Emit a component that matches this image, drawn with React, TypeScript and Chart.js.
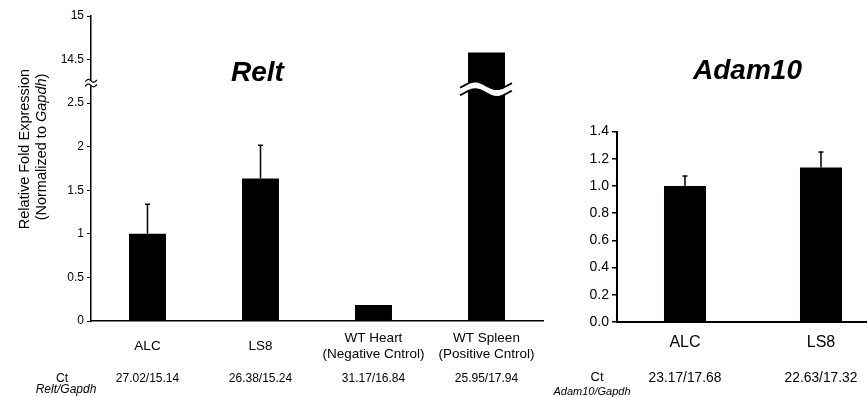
import React, { useEffect, useRef } from "react";
import { Chart, registerables } from "chart.js";

Chart.register(...registerables);

const FONT = "'Liberation Sans', Arial, Helvetica, sans-serif";

// ---- Relt panel data ----
const reltCategories = [["ALC"], ["LS8"], ["WT Heart", "(Negative Cntrol)"], ["WT Spleen", "(Positive Cntrol)"]];
const reltValues = [1.0, 1.636, 0.184, 14.58];
const reltErrors = [0.34, 0.38, 0, 0];
const reltCt = ["27.02/15.14", "26.38/15.24", "31.17/16.84", "25.95/17.94"];
const reltTickLabels = ["0", "0.5", "1", "1.5", "2", "2.5", "14.5", "15"];
// broken axis: values above BREAK_LOW are shifted down by BREAK_OFFSET on the drawing scale
const BREAK_LOW = 2.75;
const BREAK_OFFSET = 11.5;
const AXIS_BREAK_AT = 2.73;
const BAR_BREAK_AT = 2.66;

// ---- Adam10 panel data ----
const adamCategories = ["ALC", "LS8"];
const adamValues = [1.0, 1.135];
const adamErrors = [0.073, 0.115];
const adamCt = ["23.17/17.68", "22.63/17.32"];
const adamTickLabels = ["0.0", "0.2", "0.4", "0.6", "0.8", "1.0", "1.2", "1.4"];

const toDisplay = (v: number) => (v > BREAK_LOW ? v - BREAK_OFFSET : v);

function drawErrorBars(chart: any, displayValues: number[], errors: number[]) {
  const ctx = chart.ctx;
  const y = chart.scales.y;
  const meta = chart.getDatasetMeta(0);
  ctx.save();
  ctx.strokeStyle = "#000";
  ctx.lineWidth = 1.5;
  meta.data.forEach((bar: any, i: number) => {
    const e = errors[i];
    if (!e) return;
    const top = y.getPixelForValue(displayValues[i] + e);
    const base = y.getPixelForValue(displayValues[i]);
    ctx.beginPath();
    ctx.moveTo(bar.x, base);
    ctx.lineTo(bar.x, top);
    ctx.moveTo(bar.x - 2.5, top);
    ctx.lineTo(bar.x + 2.5, top);
    ctx.stroke();
  });
  ctx.restore();
}

function wavePath(ctx: any, x0: number, x1: number, yc: number, amp: number, reverse: boolean) {
  const N = 40;
  for (let k = 0; k <= N; k++) {
    const t = reverse ? 1 - k / N : k / N;
    const x = x0 + (x1 - x0) * t;
    const yy = yc - amp * Math.sin(2 * Math.PI * (t * 1.2 - 0.1));
    if (k === 0 && !reverse) ctx.moveTo(x, yy);
    else ctx.lineTo(x, yy);
  }
}

const reltPlugin = {
  id: "reltExtras",
  afterDatasetsDraw(chart: any) {
    const ctx = chart.ctx;
    const y = chart.scales.y;
    const disp = reltValues.map(toDisplay);
    drawErrorBars(chart, disp, reltErrors);

    // bar breaks
    const meta = chart.getDatasetMeta(0);
    meta.data.forEach((bar: any, i: number) => {
      if (reltValues[i] <= BREAK_LOW) return;
      const yc = y.getPixelForValue(BAR_BREAK_AT);
      const x0 = bar.x - bar.width / 2 - 8;
      const x1 = bar.x + bar.width / 2 + 7;
      const h = 3.8;
      const amp = 3.8;
      ctx.save();
      ctx.beginPath();
      wavePath(ctx, x0, x1, yc - h, amp, false);
      wavePath(ctx, x0, x1, yc + h, amp, true);
      ctx.closePath();
      ctx.fillStyle = "#fff";
      ctx.fill();
      ctx.strokeStyle = "#000";
      ctx.lineWidth = 1.8;
      ctx.beginPath();
      wavePath(ctx, x0, x1, yc - h, amp, false);
      ctx.stroke();
      ctx.beginPath();
      wavePath(ctx, x0, x1, yc + h, amp, false);
      ctx.stroke();
      ctx.restore();
    });

    // axis break
    const ax = chart.chartArea.left;
    const yb = y.getPixelForValue(AXIS_BREAK_AT);
    ctx.save();
    ctx.fillStyle = "#fff";
    ctx.fillRect(ax - 3, yb - 2.5, 6, 5);
    ctx.strokeStyle = "#000";
    ctx.lineWidth = 1.2;
    [-2.3, 2.3].forEach((d) => {
      ctx.beginPath();
      wavePath(ctx, ax - 6, ax + 6, yb + d, 1.4, false);
      ctx.stroke();
    });
    ctx.restore();
  },
  afterDraw(chart: any) {
    const ctx = chart.ctx;
    const x = chart.scales.x;
    ctx.save();
    ctx.fillStyle = "#000";
    // title
    ctx.font = `italic bold 28px ${FONT}`;
    ctx.textAlign = "center";
    ctx.textBaseline = "alphabetic";
    ctx.fillText("Relt", 257.5, 81);

    // y axis title
    ctx.save();
    ctx.translate(25, 149);
    ctx.rotate(-Math.PI / 2);
    ctx.font = `14.5px ${FONT}`;
    ctx.textBaseline = "middle";
    ctx.textAlign = "center";
    ctx.fillText("Relative Fold Expression", 0, 0);
    ctx.restore();
    ctx.save();
    ctx.translate(42, 147);
    ctx.rotate(-Math.PI / 2);
    ctx.textBaseline = "middle";
    ctx.textAlign = "left";
    const parts: [string, string][] = [
      ["(Normalized to ", `14.5px ${FONT}`],
      ["Gapdh", `italic 14.5px ${FONT}`],
      [")", `14.5px ${FONT}`],
    ];
    let total = 0;
    parts.forEach(([t, f]) => {
      ctx.font = f;
      total += ctx.measureText(t).width;
    });
    let cx = -total / 2;
    parts.forEach(([t, f]) => {
      ctx.font = f;
      ctx.fillText(t, cx, 0);
      cx += ctx.measureText(t).width;
    });
    ctx.restore();

    // Ct row
    ctx.font = `12px ${FONT}`;
    ctx.textAlign = "center";
    reltCt.forEach((t, i) => {
      ctx.fillText(t, x.getPixelForValue(i), 381.5);
    });
    ctx.fillText("Ct", 62, 381.5);
    ctx.font = `italic 12px ${FONT}`;
    ctx.fillText("Relt/Gapdh", 66, 393);
    ctx.restore();
  },
};

const adamPlugin = {
  id: "adamExtras",
  afterDatasetsDraw(chart: any) {
    drawErrorBars(chart, adamValues, adamErrors);
  },
  afterDraw(chart: any) {
    const ctx = chart.ctx;
    const x = chart.scales.x;
    ctx.save();
    ctx.fillStyle = "#000";
    ctx.font = `italic bold 28px ${FONT}`;
    ctx.textAlign = "center";
    ctx.fillText("Adam10", 207.5, 79);

    ctx.font = `13.8px ${FONT}`;
    adamCt.forEach((t, i) => {
      ctx.fillText(t, x.getPixelForValue(i), 381.5);
    });
    ctx.font = `13px ${FONT}`;
    ctx.fillText("Ct", 57, 381);
    ctx.font = `italic 11px ${FONT}`;
    ctx.fillText("Adam10/Gapdh", 52, 395);
    ctx.restore();
  },
};

export default function App() {
  const leftRef = useRef<HTMLCanvasElement>(null);
  const rightRef = useRef<HTMLCanvasElement>(null);

  useEffect(() => {
    document.body.style.margin = "0";
    const left = new Chart(leftRef.current as HTMLCanvasElement, {
      type: "bar",
      data: {
        labels: reltCategories as any,
        datasets: [
          {
            data: reltValues.map(toDisplay),
            backgroundColor: "#000",
            borderWidth: 0,
            barPercentage: 0.327,
            categoryPercentage: 1,
          },
        ],
      },
      options: {
        responsive: false,
        animation: false,
        layout: { padding: { top: 16, right: 17, left: 0, bottom: 0 } },
        plugins: { legend: { display: false }, tooltip: { enabled: false }, title: { display: false } },
        scales: {
          x: {
            offset: true,
            grid: { display: false, drawTicks: false },
            border: { display: true, color: "#000", width: 1.5 },
            ticks: { color: "#000", font: { family: FONT, size: 13.5 }, padding: 17, crossAlign: "center" } as any,
            afterFit: (s: any) => {
              s.height = 76;
            },
          },
          y: {
            min: 0,
            max: 3.5,
            ticks: {
              stepSize: 0.5,
              color: "#000",
              font: { family: FONT, size: 12 },
              padding: 3,
              callback: (v: any) => reltTickLabels[Math.round(Number(v) / 0.5)],
            },
            grid: { drawOnChartArea: false, drawTicks: true, tickLength: 4, color: "#000", lineWidth: 1 },
            border: { display: true, color: "#000", width: 1.5 },
            afterFit: (s: any) => {
              s.width = 91;
            },
          },
        },
      },
      plugins: [reltPlugin],
    });

    const right = new Chart(rightRef.current as HTMLCanvasElement, {
      type: "bar",
      data: {
        labels: adamCategories,
        datasets: [
          {
            data: adamValues,
            backgroundColor: "#000",
            borderWidth: 0,
            barPercentage: 0.309,
            categoryPercentage: 1,
          },
        ],
      },
      options: {
        responsive: false,
        animation: false,
        layout: { padding: { top: 131.5, right: 11, left: 0, bottom: 0 } },
        plugins: { legend: { display: false }, tooltip: { enabled: false }, title: { display: false } },
        scales: {
          x: {
            offset: true,
            grid: { display: false, drawTicks: false },
            border: { display: true, color: "#000", width: 2 },
            ticks: { color: "#000", font: { family: FONT, size: 16 }, padding: 11 },
            afterFit: (s: any) => {
              s.height = 75;
            },
          },
          y: {
            min: 0,
            max: 1.4,
            ticks: {
              stepSize: 0.2,
              color: "#000",
              font: { family: FONT, size: 14 },
              padding: 3,
              callback: (v: any) => adamTickLabels[Math.round(Number(v) / 0.2)],
            },
            grid: { drawOnChartArea: false, drawTicks: true, tickLength: 5, color: "#000", lineWidth: 1.5 },
            border: { display: true, color: "#000", width: 2 },
            afterFit: (s: any) => {
              s.width = 77;
            },
          },
        },
      },
      plugins: [adamPlugin],
    });

    return () => {
      left.destroy();
      right.destroy();
    };
  }, []);

  return (
    <div
      style={{
        position: "fixed",
        left: 0,
        top: 0,
        width: 867,
        height: 397,
        overflow: "hidden",
        background: "#fff",
      }}
    >
      <canvas ref={leftRef} width={560} height={397} style={{ position: "absolute", left: 0, top: 0 }} />
      <canvas ref={rightRef} width={360} height={397} style={{ position: "absolute", left: 540, top: 0 }} />
    </div>
  );
}
